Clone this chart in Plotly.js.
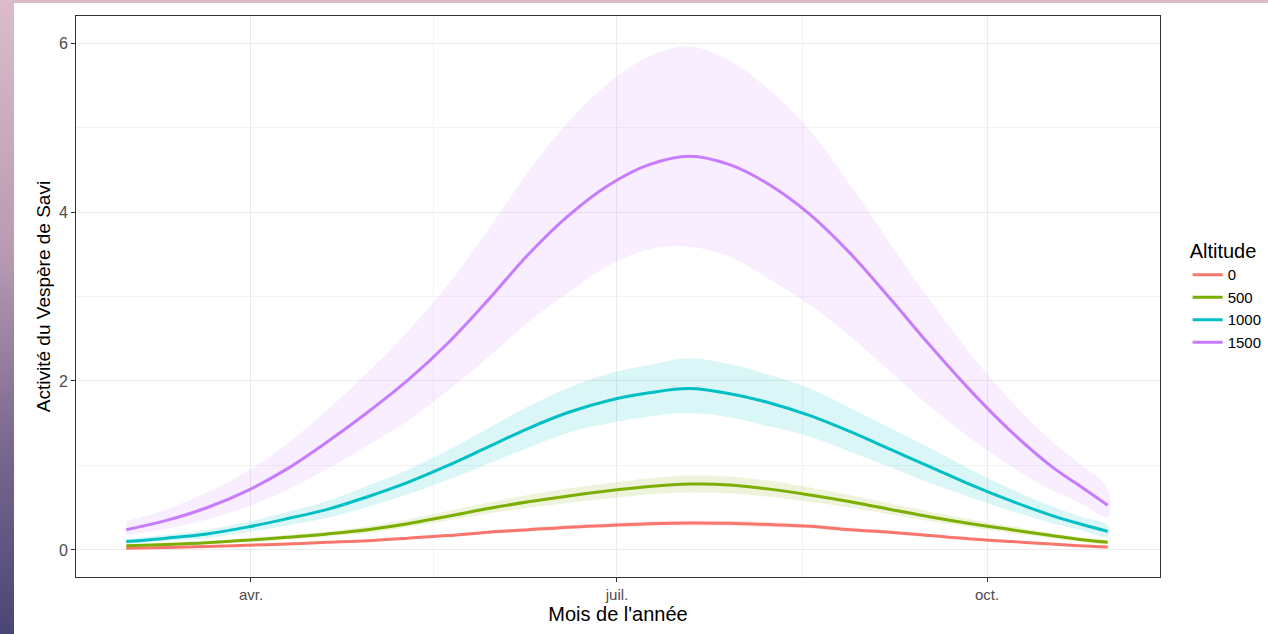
<!DOCTYPE html>
<html>
<head>
<meta charset="utf-8">
<script src="https://cdn.plot.ly/plotly-3.0.1.min.js"></script>
<style>
  html, body { margin:0; padding:0; width:1268px; height:634px; overflow:hidden; }
  body { background: linear-gradient(to bottom, #dcbccb 0%, #b89ab2 40%, #7a6890 70%, #4a4674 100%); position:relative; }
  #frame { position:absolute; left:14px; top:3px; width:1300px; height:631px; background:#ffffff; }
  #chart { width:1300px; height:631px; }
</style>
</head>
<body>
<div id="frame"><div id="chart"></div></div>
<script>
// ---- data ----
const dates = ['2021-03-01','2021-03-11','2021-03-21','2021-03-31','2021-04-10','2021-04-20','2021-04-30','2021-05-10','2021-05-20','2021-05-30','2021-06-09','2021-06-19','2021-06-29','2021-07-09','2021-07-19','2021-07-29','2021-08-08','2021-08-18','2021-08-28','2021-09-07','2021-09-17','2021-09-27','2021-10-07','2021-10-17','2021-10-24','2021-10-31'];
const altitudes = ['0','500','1000','1500'];

const fit0     = [0.020,0.030,0.040,0.055,0.070,0.090,0.110,0.140,0.170,0.210,0.240,0.270,0.290,0.310,0.320,0.315,0.300,0.280,0.240,0.210,0.170,0.130,0.100,0.070,0.050,0.035];
const upper0   = [0.025,0.035,0.047,0.063,0.080,0.100,0.120,0.155,0.190,0.230,0.265,0.295,0.320,0.340,0.350,0.345,0.330,0.305,0.265,0.230,0.190,0.145,0.110,0.080,0.060,0.042];
const lower0   = [0.015,0.025,0.034,0.047,0.060,0.080,0.100,0.125,0.155,0.190,0.215,0.245,0.265,0.280,0.290,0.285,0.270,0.255,0.215,0.190,0.150,0.115,0.090,0.062,0.045,0.030];

const fit500   = [0.050,0.065,0.085,0.115,0.150,0.190,0.240,0.310,0.400,0.490,0.570,0.640,0.700,0.750,0.780,0.770,0.720,0.650,0.570,0.480,0.390,0.310,0.240,0.170,0.125,0.090];
const upper500 = [0.060,0.080,0.100,0.140,0.180,0.220,0.280,0.360,0.460,0.560,0.650,0.730,0.790,0.850,0.880,0.870,0.820,0.740,0.650,0.550,0.450,0.360,0.280,0.200,0.150,0.110];
const lower500 = [0.040,0.050,0.070,0.090,0.120,0.160,0.200,0.270,0.350,0.430,0.500,0.560,0.610,0.660,0.680,0.670,0.630,0.570,0.500,0.420,0.340,0.270,0.200,0.140,0.100,0.070];

const fit1000   = [0.10,0.14,0.19,0.27,0.37,0.48,0.63,0.80,1.00,1.22,1.44,1.63,1.77,1.86,1.91,1.85,1.74,1.59,1.40,1.19,0.98,0.77,0.58,0.41,0.31,0.22];
const upper1000 = [0.13,0.18,0.24,0.33,0.45,0.58,0.76,0.95,1.18,1.44,1.70,1.92,2.09,2.19,2.27,2.20,2.07,1.91,1.68,1.44,1.20,0.95,0.72,0.52,0.40,0.29];
const lower1000 = [0.07,0.11,0.14,0.21,0.29,0.38,0.51,0.66,0.83,1.02,1.21,1.39,1.50,1.58,1.62,1.57,1.46,1.34,1.16,0.98,0.79,0.62,0.46,0.32,0.24,0.16];

const fit1500   = [0.24,0.35,0.50,0.70,0.96,1.28,1.63,2.01,2.45,2.96,3.50,3.96,4.32,4.56,4.66,4.56,4.32,3.97,3.51,2.97,2.41,1.88,1.40,0.99,0.76,0.53];
const upper1500 = [0.34,0.48,0.68,0.93,1.26,1.66,2.10,2.59,3.14,3.79,4.48,5.07,5.53,5.84,5.96,5.79,5.44,4.96,4.32,3.62,2.94,2.31,1.76,1.29,1.02,0.73];
const lower1500 = [0.17,0.25,0.36,0.51,0.71,0.96,1.24,1.53,1.89,2.28,2.70,3.05,3.37,3.56,3.59,3.47,3.20,2.90,2.53,2.11,1.69,1.32,0.99,0.71,0.56,0.39];

const xTickVals = ['2021-04-01','2021-07-01','2021-10-01'];
const xTickText = ['avr.','juil.','oct.'];
const xMinorVals = ['2021-05-16 12:00','2021-08-16'];
const yTickVals = [0,2,4,6];

// ---- styling ----
const colors = ['#F8766D','#7CAE00','#00BFC4','#C77CFF'];
const ribbonColors = ['rgba(248,118,109,0.15)','rgba(124,174,0,0.14)','rgba(0,191,196,0.14)','rgba(199,124,255,0.13)'];
const fits = [fit0, fit500, fit1000, fit1500];
const uppers = [upper0, upper500, upper1000, upper1500];
const lowers = [lower0, lower500, lower1000, lower1500];

const traces = [];
for (let i = 0; i < altitudes.length; i++) {
  const rx = dates.concat(dates.slice().reverse());
  const ry = uppers[i].concat(lowers[i].slice().reverse());
  traces.push({
    x: rx, y: ry, type: 'scatter', mode: 'lines',
    fill: 'toself', fillcolor: ribbonColors[i],
    line: {width: 0, shape: 'spline', smoothing: 1, color: ribbonColors[i]},
    showlegend: false, hoverinfo: 'skip'
  });
}
for (let i = 0; i < altitudes.length; i++) {
  traces.push({
    x: dates, y: fits[i], type: 'scatter', mode: 'lines',
    name: altitudes[i],
    line: {color: colors[i], width: 3, shape: 'spline', smoothing: 1}
  });
}

const layout = {
  width: 1300, height: 631,
  margin: {l: 62, r: 154, t: 13, b: 57},
  paper_bgcolor: '#ffffff', plot_bgcolor: '#ffffff',
  font: {family: 'Liberation Sans, Arial, sans-serif', color: '#4d4d4d', size: 16},
  showlegend: true,
  xaxis: {
    type: 'date',
    range: ['2021-02-16 12:00', '2021-11-13'],
    tickmode: 'array', tickvals: xTickVals, ticktext: xTickText,
    showgrid: true, gridcolor: '#ebebeb', gridwidth: 1,
    minor: {tickmode: 'array', tickvals: xMinorVals, showgrid: true, gridcolor: '#f3f3f3', gridwidth: 1, ticks: ''},
    ticks: 'outside', ticklen: 4, tickcolor: '#333333', tickwidth: 1,
    tickfont: {size: 15, color: '#4d4d4d'},
    showline: true, linecolor: '#333333', linewidth: 1, mirror: true,
    zeroline: false,
    title: {text: "Mois de l'année", font: {size: 20, color: '#000000'}, standoff: 1}
  },
  yaxis: {
    range: [-0.32, 6.32],
    tickmode: 'array', tickvals: yTickVals,
    showgrid: true, gridcolor: '#ebebeb', gridwidth: 1,
    minor: {dtick: 1, tick0: 0, showgrid: true, gridcolor: '#f3f3f3', gridwidth: 1, ticks: ''},
    ticks: 'outside', ticklen: 4, tickcolor: '#333333', tickwidth: 1,
    tickfont: {size: 16, color: '#4d4d4d'},
    showline: true, linecolor: '#333333', linewidth: 1, mirror: true,
    zeroline: false,
    title: {text: 'Activité du Vespère de Savi', font: {size: 19, color: '#000000'}, standoff: 3}
  },
  legend: {
    x: 1.0255, xanchor: 'left', y: 0.502, yanchor: 'middle',
    title: {text: 'Altitude', font: {size: 20, color: '#000000'}},
    font: {size: 15, color: '#000000'},
    bgcolor: 'rgba(0,0,0,0)', itemwidth: 30, tracegroupgap: 0
  },
  hovermode: false
};

Plotly.newPlot('chart', traces, layout, {displayModeBar: false, staticPlot: true});
</script>
</body>
</html>
